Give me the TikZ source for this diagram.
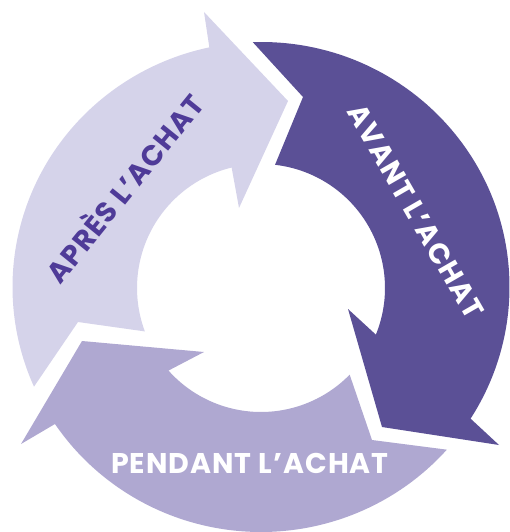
\documentclass[tikz,border=0pt]{standalone}
\usepackage{fontspec}
\setmainfont{Poppins}
\newfontfamily\phasefont{Poppins}[LetterSpace=3.5]
\usetikzlibrary{calc}
\definecolor{lightlav}{HTML}{D5D3EA}
\definecolor{deeppurple}{HTML}{5B5096}
\definecolor{midlav}{HTML}{AFA8D1}
\definecolor{inkpurple}{HTML}{4F3B98}
\begin{document}
\begin{tikzpicture}[x=1pt,y=1pt,
  phase/.style={font=\phasefont\bfseries\fontsize{28.5}{28.5}\selectfont, inner sep=0pt,
    text height=19.8pt, text depth=0pt, anchor=center}]
\useasboundingbox (0,0) rectangle (509,-532);
% centres of the outer and inner rims of the ring
\coordinate (C) at (261,-287);
\coordinate (Ci) at (261,-288);

% after the purchase (left, pointing up to the top)
\fill[lightlav] ($(C)+(204:248.5 and 245)$)
  arc[start angle=204, end angle=102, x radius=248.5, y radius=245]
  -- (204,-12) -- (288,-101) -- (239,-208)
  -- ($(Ci)+(103.7:124)$)
  arc[start angle=103.7, end angle=200.5, radius=124]
  -- (78,-322) -- cycle;

% before the purchase (top right, pointing down)
\fill[deeppurple] ($(C)+(91.9:248.5 and 245)$)
  arc[start angle=91.9, end angle=-32.5, x radius=248.5, y radius=245]
  -- (499,-445) -- (382,-427) -- (348,-309)
  -- ($(Ci)+(-22.1:124)$)
  arc[start angle=-22.1, end angle=83.5, radius=124]
  -- (303,-97) -- cycle;

% during the purchase (bottom, pointing left)
\fill[midlav] ($(C)+(-41.6:248.5 and 245)$)
  arc[start angle=-41.6, end angle=-146, x radius=248.5, y radius=245]
  -- (21,-444) -- (82,-341) -- (204,-352)
  -- ($(Ci)+(-138.25:124)$)
  arc[start angle=-138.25, end angle=-44.35, radius=124]
  -- (372,-440) -- cycle;

\node[phase, text=inkpurple, rotate=51] (apres) at (125.5,-189) {APRÈS L’ACHAT};
\node[phase, text=white, rotate=-60] (avant) at (415.5,-211.5) {AVANT L’ACHAT};
\node[phase, text=white] (pendant) at (250,-464) {PENDANT L’ACHAT};
\end{tikzpicture}
\end{document}
